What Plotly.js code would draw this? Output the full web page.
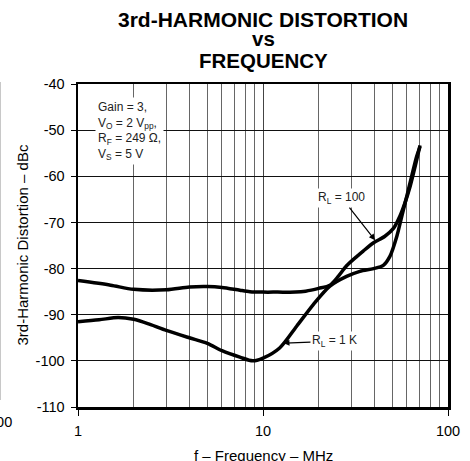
<!DOCTYPE html>
<html>
<head>
<meta charset="utf-8">
<script src="https://cdn.plot.ly/plotly-3.0.1.min.js"></script>
<style>
  html, body { margin: 0; padding: 0; background: #fff; }
  #chart { width: 470px; height: 461px; }
</style>
</head>
<body>
<div id="chart"></div>
<script>
// ---- data ----
const freqRL100 = [1, 1.5, 2, 3, 4, 5, 6, 7.5, 8.5, 10, 12, 15, 17, 20, 23, 25.5, 28.3, 32.1, 34.8, 39.6, 45.6, 50.7, 55, 58.6, 62.5, 66.5, 70.6];
const distRL100 = [-82.6, -83.6, -84.5, -84.6, -84.0, -83.9, -84.1, -84.7, -85.0, -85.1, -85.1, -85.1, -84.9, -84.3, -83.6, -81.7, -79.4, -77.4, -76.2, -74.4, -73.0, -71.3, -68.6, -65.7, -62.1, -57.8, -53.3];

const freqRL1K = [1, 1.3, 1.65, 2, 2.45, 3, 4, 5, 6, 7.5, 8.8, 10, 12.3, 15.2, 18.7, 23, 28.3, 33.4, 39.6, 44.7, 48.6, 52.9, 56.3, 59.9, 63.7, 67.8, 70.6];
const distRL1K = [-91.5, -91.1, -90.6, -91.0, -92.1, -93.4, -95.0, -96.2, -97.8, -99.2, -100.0, -99.4, -97.2, -92.5, -87.8, -83.8, -81.7, -80.6, -80.0, -79.3, -77.3, -73.0, -68.6, -64.3, -59.9, -55.6, -53.6];

const xMajorTicks = [1, 10, 100];
const xMajorLabels = ['1', '10', '100'];
const xMinorTicks = [2, 3, 4, 5, 6, 7, 8, 9, 20, 30, 40, 50, 60, 70, 80, 90];
const yTicks = [-110, -100, -90, -80, -70, -60, -50, -40];
const yTickLabels = ['-110', '-100', '-90', '-80', '-70', '-60', '-50', '-40'];

const titleLines = ['3rd-HARMONIC DISTORTION', 'vs', 'FREQUENCY'];
const xTitle = 'f – Frequency – MHz';
const yTitle = '3rd-Harmonic Distortion – dBc';
const conditionsText = 'Gain = 3,<br>V<sub>O</sub> = 2 V<sub>pp</sub>,<br>R<sub>F</sub> = 249 Ω,<br>V<sub>S</sub> = 5 V';
const labelRL100 = 'R<sub>L</sub> = 100';
const labelRL1K = 'R<sub>L</sub> = 1 K';

// ---- chart ----
const FONT = 'Liberation Sans, Arial, Helvetica, sans-serif';

const traces = [
  { x: freqRL100, y: distRL100, mode: 'lines', name: 'RL = 100',
    line: { color: '#000', width: 3.5, shape: 'spline', smoothing: 0.8 } },
  { x: freqRL1K, y: distRL1K, mode: 'lines', name: 'RL = 1 K',
    line: { color: '#000', width: 3.5, shape: 'spline', smoothing: 0.8 } }
];

const titleY = [1.2012, 1.1424, 1.0743];
const titleSize = [21, 20.5, 20.5];
const annotations = titleLines.map((t, i) => ({
  text: '<b>' + t + '</b>', xref: 'paper', yref: 'paper', x: 0.5, y: titleY[i],
  xanchor: 'center', yanchor: 'middle', showarrow: false,
  font: { family: FONT, size: titleSize[i], color: '#000' }
}));

// axis titles
annotations.push({
  text: xTitle, xref: 'paper', yref: 'paper', x: 0.5, y: (407 - 455) / 323,
  xanchor: 'center', yanchor: 'middle', showarrow: false,
  font: { family: FONT, size: 15, color: '#000' }
});
annotations.push({
  text: yTitle, xref: 'paper', yref: 'paper', x: (22 - 78) / 370, y: 0.5,
  xanchor: 'center', yanchor: 'middle', showarrow: false, textangle: -90,
  font: { family: FONT, size: 15, color: '#000' }
});

annotations.push({
  text: conditionsText, xref: 'paper', yref: 'paper', x: 0.046, y: 0.96,
  xanchor: 'left', yanchor: 'top', align: 'left', showarrow: false,
  bgcolor: '#fff', borderpad: 2,
  font: { family: FONT, size: 12, color: '#222' }
});

annotations.push({
  text: labelRL100, x: Math.log10(40.3), y: -73.85, xref: 'x', yref: 'y',
  showarrow: true, ax: -33, ay: -42, arrowhead: 2, arrowsize: 1, arrowwidth: 1.2,
  arrowcolor: '#000', bgcolor: '#fff', borderpad: 1, standoff: 0,
  font: { family: FONT, size: 12, color: '#222' }
});
annotations.push({
  text: labelRL1K, x: Math.log10(12.9), y: -96.15, xref: 'x', yref: 'y',
  showarrow: true, ax: 51, ay: -2, arrowhead: 2, arrowsize: 1, arrowwidth: 1.2,
  arrowcolor: '#000', bgcolor: '#fff', borderpad: 1, standoff: 0,
  font: { family: FONT, size: 12, color: '#222' }
});

// cropped neighbour chart remnants at the left edge
annotations.push({
  text: '100', xref: 'paper', yref: 'paper', x: (14 - 78) / 370, y: (407 - 422) / 323,
  xanchor: 'right', yanchor: 'middle', showarrow: false,
  font: { family: FONT, size: 14.5, color: '#000' }
});

const layout = {
  width: 470, height: 461,
  margin: { l: 78, r: 22, t: 84, b: 54 },
  paper_bgcolor: '#fff', plot_bgcolor: '#fff',
  showlegend: false,
  font: { family: FONT, color: '#000' },
  xaxis: {
    type: 'log', range: [0, 2],
    tickmode: 'array', tickvals: xMajorTicks, ticktext: xMajorLabels,
    ticks: 'outside', ticklen: 6, tickwidth: 1, tickcolor: '#000',
    ticklabelstandoff: 3,
    showline: true, linewidth: 2.5, linecolor: '#000', mirror: true,
    showgrid: true, gridcolor: '#444', gridwidth: 1,
    minor: { tickvals: xMinorTicks, showgrid: true, gridcolor: '#666', gridwidth: 1, ticks: '' },
    zeroline: false,
    tickfont: { family: FONT, size: 14.5, color: '#000' }
  },
  yaxis: {
    range: [-110, -40],
    tickmode: 'array', tickvals: yTicks, ticktext: yTickLabels,
    ticks: 'outside', ticklen: 5, tickwidth: 1, tickcolor: '#000',
    ticklabelstandoff: 3,
    showline: true, linewidth: 2.5, linecolor: '#000', mirror: true,
    showgrid: true, gridcolor: '#111', gridwidth: 1,
    zeroline: false,
    tickfont: { family: FONT, size: 14.5, color: '#000' }
  },
  annotations: annotations,
  shapes: [
    { type: 'line', xref: 'paper', yref: 'paper',
      x0: (0.5 - 78) / 370, x1: (0.5 - 78) / 370, y0: (407 - 82) / 323, y1: (407 - 400) / 323,
      line: { color: '#c8c8c8', width: 1 } }
  ]
};

Plotly.newPlot('chart', traces, layout, { staticPlot: true, displayModeBar: false });
</script>
</body>
</html>
